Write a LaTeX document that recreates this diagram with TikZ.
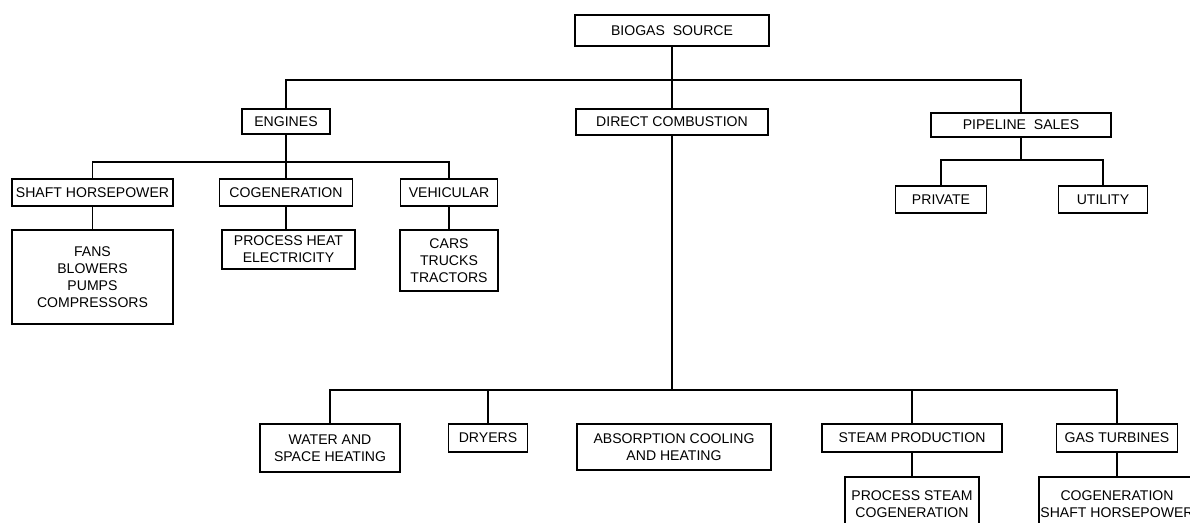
\documentclass[tikz,border=0pt]{standalone}
\usepackage{fontspec}
\setmainfont{Liberation Sans}
\usetikzlibrary{positioning}

\begin{document}
\begin{tikzpicture}
	[x=0.025cm,y=-0.025cm,
	block node/.style={shape=rectangle,draw,line width=.8pt,fill=white,align=center,inner sep=1pt,
		font={\fontsize{10}{12}\selectfont}},
	link/.style={draw,line width=.8pt}]
	\useasboundingbox (0,0) rectangle (1190,523) ;
	\clip (0,0) rectangle (1190,523) ;
	
	% top level
	\node [block node,minimum width=4.85cm,minimum height=.775cm] (biogas) at (672,30.5) {BIOGAS\ \ SOURCE} ;
	\node [block node,minimum width=2.2cm,minimum height=.625cm] (engines) at (286,121.5) {ENGINES} ;
	\node [block node,minimum width=4.8cm,minimum height=.65cm] (direct) at (672,122) {DIRECT COMBUSTION} ;
	\node [block node,minimum width=4.5cm,minimum height=.6cm] (pipeline) at (1021,125) {PIPELINE\ \ SALES} ;
	
	% pipeline sales
	\node [block node,minimum width=2.275cm,minimum height=.675cm] (private) at (941,199.5) {PRIVATE} ;
	\node [block node,minimum width=2.225cm,minimum height=.675cm] (utility) at (1103,199.5) {UTILITY} ;
	
	% engines
	\node [block node,minimum width=4.025cm,minimum height=.675cm] (shaft) at (92.5,192.5) {SHAFT HORSEPOWER} ;
	\node [block node,minimum width=3.325cm,minimum height=.675cm] (cogen) at (286,192.5) {COGENERATION} ;
	\node [block node,minimum width=2.425cm,minimum height=.675cm] (vehicular) at (449,192.5) {VEHICULAR} ;
	\node [block node,minimum width=4.025cm,minimum height=2.35cm] (fans) at (92.5,277) {FANS\\BLOWERS\\PUMPS\\COMPRESSORS} ;
	\node [block node,minimum width=3.325cm,minimum height=.975cm] (procheat) at (288.5,249.5) {PROCESS HEAT\\ELECTRICITY} ;
	\node [block node,minimum width=2.45cm,minimum height=1.525cm] (cars) at (449,260.5) {CARS\\TRUCKS\\TRACTORS} ;
	
	% direct combustion
	\node [block node,minimum width=3.5cm,minimum height=1.2cm] (water) at (330,448) {WATER AND\\SPACE HEATING} ;
	\node [block node,minimum width=1.975cm,minimum height=.7cm] (dryers) at (488,438) {DRYERS} ;
	\node [block node,minimum width=4.85cm,minimum height=1.15cm] (absorption) at (674,447) {ABSORPTION COOLING\\AND HEATING} ;
	\node [block node,minimum width=4.5cm,minimum height=.7cm] (steam) at (912,438) {STEAM PRODUCTION} ;
	\node [block node,minimum width=3.025cm,minimum height=.7cm] (turbines) at (1117,438) {GAS TURBINES} ;
	\node [block node,minimum width=3.35cm,minimum height=1.35cm] (procsteam) at (912,504) {PROCESS STEAM\\COGENERATION} ;
	\node [block node,minimum width=3.9cm,minimum height=1.35cm] (cogenshaft) at (1117,504) {COGENERATION\\SHAFT HORSEPOWER} ;
	
	\coordinate (j0) at (672,80) ;
	\coordinate (j1) at (286,162) ;
	\coordinate (j2) at (1021,160) ;
	\coordinate (j3) at (672,390) ;
	
	\path[link]
	(biogas) -- (direct)
	(engines.north) |- (j0)
	(pipeline.north) |- (j0)
	(engines) -- (cogen)
	(shaft.north) |- (j1)
	(vehicular.north) |- (j1)
	(shaft) -- (fans)
	(cogen.south) -- (cogen.south |- procheat.north)
	(vehicular) -- (cars)
	(pipeline.south) -- (j2)
	(private.north) |- (j2)
	(utility.north) |- (j2)
	(direct.south) -- (j3)
	(water.north) |- (j3)
	(dryers.north) |- (j3)
	(steam.north) |- (j3)
	(turbines.north) |- (j3)
	(steam) -- (procsteam)
	(turbines) -- (cogenshaft)
	;
	
\end{tikzpicture}
\end{document}
